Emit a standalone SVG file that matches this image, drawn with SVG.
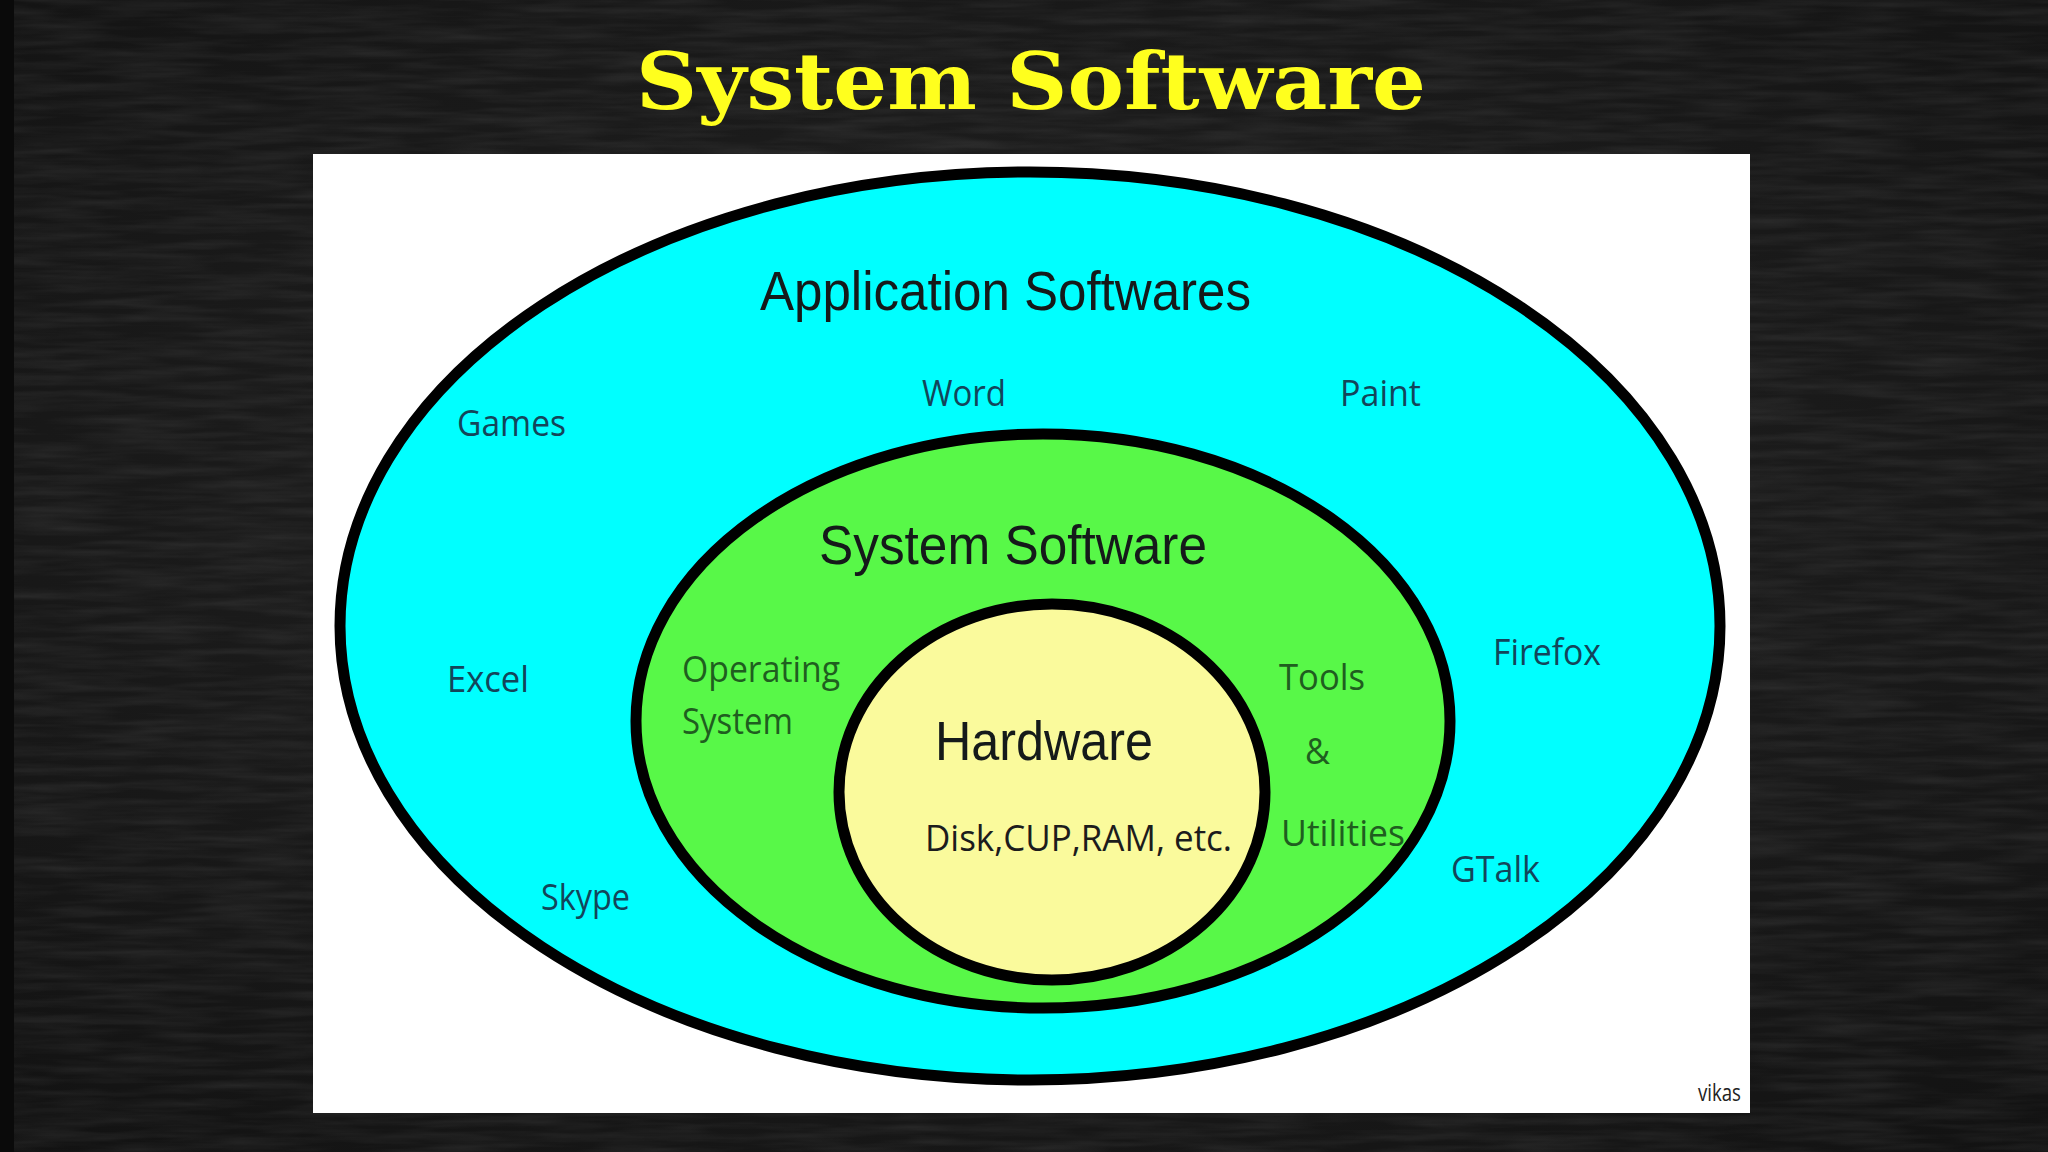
<svg xmlns="http://www.w3.org/2000/svg" width="2048" height="1152" viewBox="0 0 2048 1152">
  <defs>
    <filter id="chalk" x="0" y="0" width="100%" height="100%">
      <feTurbulence type="fractalNoise" baseFrequency="0.01 0.12" numOctaves="3" seed="7" result="n"/>
      <feColorMatrix in="n" type="matrix" values="0 0 0 0 1  0 0 0 0 1  0 0 0 0 1  0 0 0 0.12 -0.04"/>
    </filter>
    <radialGradient id="bg" cx="0.5" cy="0.45" r="0.75">
      <stop offset="0" stop-color="#232323"/>
      <stop offset="1" stop-color="#121212"/>
    </radialGradient>
  </defs>
  <style>
    .ring { stroke: #000; stroke-width: 11; }
    .lbl { font-family: "Open Sans", "Noto Sans", "Liberation Sans", sans-serif; font-size: 36px; }
    .app { fill: #13455a; }
    .sys { fill: #1f5e1f; }
    .big { font-family: "Liberation Sans", Arial, sans-serif; font-size: 56px; fill: #151a1a; }
  </style>

  <g id="background">
    <rect x="0" y="0" width="2048" height="1152" fill="url(#bg)"/>
    <rect x="0" y="0" width="2048" height="1152" filter="url(#chalk)"/>
    <rect x="0" y="0" width="14" height="1152" fill="#0a0a0a"/>
  </g>

  <g id="title">
    <text x="1031" y="109" text-anchor="middle" font-family="'DejaVu Serif', 'Liberation Serif', serif" font-weight="bold" font-size="78" fill="#ffff1e" textLength="790" lengthAdjust="spacingAndGlyphs">System Software</text>
  </g>

  <g id="panel">
    <rect x="313" y="154" width="1437" height="959" fill="#ffffff"/>
  </g>

  <g id="application-softwares">
    <ellipse class="ring" cx="1030" cy="626" rx="690" ry="454" fill="#00ffff"/>
    <text class="big" x="760" y="310" textLength="491" lengthAdjust="spacingAndGlyphs">Application Softwares</text>
    <text class="lbl app" x="922" y="406" textLength="84" lengthAdjust="spacingAndGlyphs">Word</text>
    <text class="lbl app" x="1340" y="406" textLength="81" lengthAdjust="spacingAndGlyphs">Paint</text>
    <text class="lbl app" x="457" y="436" textLength="109" lengthAdjust="spacingAndGlyphs">Games</text>
    <text class="lbl app" x="447" y="692" textLength="82" lengthAdjust="spacingAndGlyphs">Excel</text>
    <text class="lbl app" x="541" y="910" textLength="89" lengthAdjust="spacingAndGlyphs">Skype</text>
    <text class="lbl app" x="1493" y="665" textLength="108" lengthAdjust="spacingAndGlyphs">Firefox</text>
    <text class="lbl app" x="1451" y="882" textLength="89" lengthAdjust="spacingAndGlyphs">GTalk</text>
  </g>

  <g id="system-software">
    <ellipse class="ring" cx="1043" cy="721" rx="407" ry="287" fill="#58f848"/>
    <text class="big" x="819" y="564" textLength="388" lengthAdjust="spacingAndGlyphs">System Software</text>
    <text class="lbl sys" x="682" y="682" textLength="158" lengthAdjust="spacingAndGlyphs">Operating</text>
    <text class="lbl sys" x="682" y="734" textLength="111" lengthAdjust="spacingAndGlyphs">System</text>
    <text class="lbl sys" x="1279" y="690" textLength="86" lengthAdjust="spacingAndGlyphs">Tools</text>
    <text class="lbl sys" x="1305" y="764" textLength="25" lengthAdjust="spacingAndGlyphs">&amp;</text>
    <text class="lbl sys" x="1281" y="846" textLength="124" lengthAdjust="spacingAndGlyphs">Utilities</text>
  </g>

  <g id="hardware">
    <ellipse class="ring" cx="1052" cy="792" rx="213" ry="188" fill="#fafa9c"/>
    <text class="big" x="935" y="760" textLength="218" lengthAdjust="spacingAndGlyphs">Hardware</text>
    <text class="lbl" x="925" y="851" fill="#1c1c1c" textLength="307" lengthAdjust="spacingAndGlyphs">Disk,CUP,RAM, etc.</text>
  </g>

  <g id="credit">
    <text x="1698" y="1101" font-family="'Open Sans', 'Liberation Sans', sans-serif" font-size="24" fill="#222" textLength="43" lengthAdjust="spacingAndGlyphs">vikas</text>
  </g>
</svg>
